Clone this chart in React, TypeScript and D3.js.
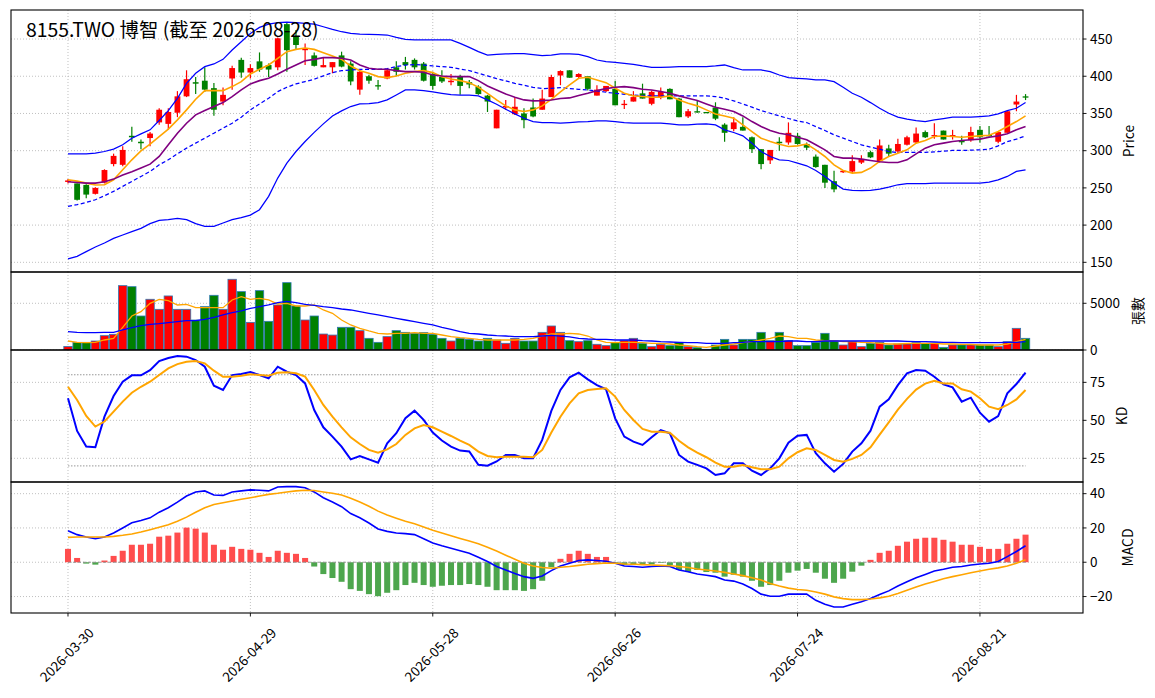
import { useEffect, useRef } from "react"
import * as d3 from "d3"

// x axis ticks (trading-day index -> label)
const tickIndex = [0, 20, 40, 60, 80, 100]
const tickLabels = ["2026-03-30", "2026-04-29", "2026-05-28", "2026-06-26", "2026-07-24", "2026-08-21"]

const title = "8155.TWO 博智 (截至 2026-08-28)"

const open = [258,256,254,242,257,282,281,320,312,317, 338,336,351,373,392,394,384,366,397,422, 405,420,415,412,470,453,435,428,412,412, 428,417,382,400,388,397,412,419,422,417, 403,399,392,399,392,386,374,330,358,349, 350,358,355,372,401,408,399,400,374,380, 383,362,366,377,363,372,383,370,346,353, 352,358,335,329,332,318,302,287,312,311, 320,309,292,281,259,271,272,284,298,286, 303,299,308,311,325,320,327,320,313,314, 328,321,312,324,362,373]
const high = [262,256,255,251,275,296,306,332,315,325, 357,357,380,408,399,412,391,385,414,425, 416,432,417,452,473,462,444,432,426,419, 433,420,409,402,395,409,420,426,424,419, 406,408,403,402,395,388,375,355,368,372, 357,370,382,402,408,408,404,400,388,387, 394,368,380,390,381,385,384,371,356,368, 352,365,337,345,345,319,302,301,318,338, 324,311,295,281,273,273,294,294,300,315, 308,316,320,331,327,337,327,328,320,332, 333,333,325,353,375,376]
const low = [256,233,236,241,256,279,279,312,302,306, 335,328,345,372,376,379,347,361,382,398, 397,406,399,408,406,436,415,413,412,404, 412,388,375,390,382,396,400,409,409,393, 382,391,388,375,384,375,352,330,355,348, 330,345,355,372,388,398,397,381,374,379, 361,356,366,370,361,369,369,345,344,351, 351,341,312,326,327,297,275,282,300,308, 308,301,277,250,244,270,270,282,290,284, 293,297,307,310,317,316,315,315,308,312, 311,319,310,324,353,368]
const close = [260,234,241,250,274,293,301,318,310,323, 355,352,373,396,390,382,355,375,411,405, 411,409,409,451,435,442,437,414,415,419, 413,393,406,394,387,408,406,415,412,394, 387,393,394,387,389,376,366,355,360,359, 341,346,370,399,407,398,403,383,382,387, 361,363,372,370,379,379,369,345,353,352, 351,343,324,338,327,302,282,301,310,324, 309,304,278,257,248,273,286,289,291,307, 296,309,318,323,318,321,315,321,312,325, 318,320,325,353,366,372]
const volume = [380,820,820,960,1535,1680,6890,6780,3640,5430, 4355,5785,4355,4355,3210,4640,5855,4355,7570,6250, 2960,6355,3070,4820,7210,4710,3210,3640,1710,1600, 2430,2430,2070,1250,820,1430,2070,1890,1785,1860, 1680,1250,960,1250,1140,960,1250,1070,715,1250, 960,960,1890,2570,1890,1000,890,1000,610,465, 820,1000,1250,715,357,610,465,820,357,250, 80,535,1140,535,1140,1140,1890,1000,1890,1000, 465,465,820,1785,960,535,890,357,715,820, 535,640,640,785,715,715,285,535,535,535, 535,535,357,890,2320,1250]

// Bollinger bands and moving averages
const bbUpper = [295.8,295.8,295.8,296.7,298.9,302,307.9,316.8,322.6,328, 340.5,353.9,370.4,390.5,404,412.9,416.5,422.7,435.2,446.4, 457.6,465.6,470.1,471.9,472.8,471.9,471,470.1,466.5,463, 459.8,457.6,456.7,456.3,455.8,455.4,452.2,449.6,448.7,448.7, 448.7,448.7,448.7,444.2,438.8,433,428.5,429.4,429.9,430.3, 430.3,429,427.6,428.5,429.9,429.9,429.4,426.3,421.8,419.6, 418.7,417.4,416,413.8,412,412,412.4,412.9,412.9,412.9, 412.9,413.8,415.1,411.6,408.4,408.4,408.4,406.2,401.7,398.1, 397.3,396.4,395,395,392.8,385.2,377.1,371.8,364.6,357, 350.3,345,342.3,340.5,339.1,341.4,343.2,345,345,345, 345.8,346.7,349.4,353.9,357,364.6]
const bbMid = [225.2,227.4,230.5,234.1,239.5,245.3,252,258.7,265.4,272.1, 281,287.7,295.8,303.4,310.1,316.8,323.5,330.2,336.9,345, 354.8,362.8,370.4,379.4,385.2,389.7,392.8,396,400.5,404.9, 407.5,408.4,409.3,409.3,409.3,410.2,412.9,415.1,415.6,415.1, 413.8,412.9,412,409.8,407.5,404,400.4,396.8,393.7,390.5, 387.9,385.2,383.4,383.8,384.7,383.4,382.5,381.6,380.3,378.5, 377.1,375.8,374.9,373.6,373.6,373.6,373.6,373.6,373.6,373.6, 373.6,372.7,370.4,366.9,362.8,358.4,353.9,350.3,346.7,343.2, 340,337.8,332.4,327.1,321.3,316.8,312.3,307.9,304.7,302, 298.9,297.6,297.6,297.6,297.6,298.5,299.4,300.3,300.3,300.7, 301.1,302,306.5,312.3,315.5,319.9]
const bbLower = [154.5,158.1,164.4,170.6,176,182.2,186.7,191.2,195.7,201.9, 206.4,207.3,209.1,207.3,201.9,198.3,198.3,202.8,207.3,210, 213.5,220.7,238.6,263.2,283.3,298.9,312.3,324.6,336,346.7, 353.4,359.3,362.8,363.3,364.6,368.2,374.9,381.6,381.6,380.7, 378.9,377.1,375.4,374.5,374.5,373.6,368.2,362.4,355.7,349.4, 343.6,339.1,337.8,337.8,336.9,337.8,338.7,339.1,340,340, 339.1,337.8,336.9,336.9,336.9,336.9,336,334.7,334.7,335.6, 336,334.7,328,324.4,319.9,310.1,298.9,292.2,287.7,286.8, 283.3,279.7,273.4,265.4,256.4,248.4,246.6,246.2,246.6,248.4, 251.1,254.2,255.6,255.6,255.6,256.4,256.4,256.4,256.4,256.4, 256.4,257.8,260.9,265.4,272.1,274.3]
const ma5 = [260.9,259.1,256.4,253.8,254.2,260.9,274.3,287.7,299.8,308.7, 319,328.9,341.4,354.8,369.1,380.7,380.7,380.7,386.1,392.8, 403.1,409.3,415.1,424.1,433,436.1,437.9,436.1,431.7,427.2, 422.7,413.8,407.5,404,399.5,398.1,400.4,404,406.2,407.5, 404.9,399.5,396.4,394.1,391.4,385.2,377.1,368.2,360.2,354.8, 352.6,354.8,360.2,369,379,388.3,397.3,398.6,395,391.4, 383.8,377.1,373.6,372.7,371.8,371.8,373.6,368.2,363.7,360.2, 354.8,349.4,346.7,343.6,334.7,325.7,316.8,312.3,308.7,305.6, 306.5,309,301.1,292.2,281,273.4,269.9,270.8,276.6,285.5, 292.2,296.7,301.1,310.1,313.7,319,319.9,319,318.1,319, 319.9,320.8,325.7,332.4,339.1,346.7]
const ma10 = [258.2,257.3,256.4,256.4,258.2,261.8,267.2,271.6,276.6,281.9, 292.2,307.9,323.5,336.9,348.1,353.9,359.3,364.6,372.7,381.6, 389.7,394.1,397.3,403.1,409.3,415.1,420.9,422.7,425,425, 424.1,421.8,415.1,410.7,409.3,409.3,407.5,406.2,406.2,405.3, 401.7,400.4,399.5,399.5,399.5,394.1,387,381.6,376.2,371.8, 368.2,366.9,367.3,368,370,370.9,374,377.1,380.7,383.4, 385.2,386.1,384.7,382.5,381.6,379.4,377.1,373.6,370.4,367.3, 362.8,358.4,355.7,352.6,346.7,339.1,332.4,327.1,323.5,321.3, 318.1,314.6,307.9,301.1,292.2,290,290,288.6,286.8,285.1, 284.2,284.2,287.7,295.8,303.4,307.9,310.1,312.3,313.7,314.6, 315.5,318.1,319.9,322.6,328,332.4]

// volume averages
const volMa5 = [964,821,785,821,1071,1250,2428,3641,4106,4998, 5426,5284,4820,4891,4534,4534,4534,4534,5355,5712, 5426,5534,5355,4927,4998,4712,4712,4820,4284,3927, 3213,2678,2321,2035,1785,1714,1785,1785,1856,1785, 1785,1607,1428,1321,1250,1142,1071,1071,1071,1071, 1142,1250,1499,1714,1714,1785,1714,1499,1071,821, 785,821,821,785,714,714,643,536,464,357, 286,428,536,643,785,893,1071,1250,1499,1428, 1250,1250,1071,1000,1000,893,893,821,785,714, 643,643,714,714,714,714,643,643,607,607, 536,536,536,643,893,1142]
const volMa20 = [1964,1892,1856,1856,1892,1892,2142,2392,2606,2749, 2820,2927,3035,3142,3142,3284,3499,3749,3998,4177, 4463,4641,4820,5069,5212,5069,4891,4784,4641,4534, 4391,4284,4106,3927,3749,3570,3392,3213,3035,2856, 2678,2428,2213,1964,1785,1714,1607,1535,1499,1428, 1428,1428,1499,1560,1480,1400,1250,1178,1142,1142, 1071,1071,1071,1000,964,893,857,821,785,785, 714,714,714,785,821,893,893,893,893,964, 964,893,893,964,964,964,964,964,964,964, 964,964,928,893,893,857,821,821,785,785, 785,785,785,821,821,893]

// KD
const kValues = [64.5,43,32.7,32.3,52.4,66,75.4,79.6,79.6,83, 89,91,92.3,91.9,89.7,85.3,72.8,70,79.8,80.5, 81.8,79.8,77.6,85.3,82,79.8,74.3,56.8,45.4,39.3, 32.7,24.3,26.5,24.3,22.1,34.9,41.5,51.4,56.4,50.3, 42,36.7,32.7,30.1,29.5,20.7,20.1,22.9,27.2,27.2, 25,25,37.1,56.2,70,78.3,81.4,77,73.2,70.4, 51.3,39.3,36,33.8,38.8,43.6,41.5,27.2,22.8,20.7, 18.4,14,15.1,21.7,21.7,16.8,14,18.4,25,35.3, 39.8,40.4,28.3,21.7,16.2,21.3,29.4,34.9,43.2,59, 63.8,73.2,80.9,83.1,82.7,78.7,73.7,71.7,62.3,64.9, 55,49.1,52.8,67.8,73.9,81.4]
const dValues = [72.1,63.4,52.9,45.9,49.2,55.7,62.3,68.2,72.1,75.4, 79.8,84.2,87,88.6,89,87.5,82.7,78.7,78.7,79.4, 80.3,79.8,79.4,81.4,81.6,81,78.8,70,60.1,52.4, 45.4,38.8,34.4,30.5,28.7,30.9,34.4,40.4,44.7,46.9, 45.4,42.5,39.7,36.6,33.8,29.4,26.5,25.7,26.1,26.1, 26.1,25.7,30.5,42,52.4,61.2,67.8,70,70.6,71.1, 65.6,56.8,50.2,44.3,42.5,42.5,41.9,36.6,32.2,28.7, 25.7,22.1,19.5,19.5,20.6,19.1,17.8,17.8,19.5,25, 29,31.6,30.5,27.2,23.9,22.8,24.6,27.2,32.2,40.6, 48.7,57.1,64.1,70.2,74.2,76.1,74.2,74.3,70.4,68.9, 64.5,59,57.3,60.1,63.8,70]
const kdLevels = [80, 20]

// MACD
const dif = [18.4,16.1,14.7,13.7,14.7,17.1,20,23,24.3,25.9, 29.2,31.8,35.1,38.6,41,41.6,39.2,39,41,41.6, 42.2,42,41.6,43.9,44.1,44.1,43.5,41,37.6,35.1, 32.4,28.4,25.9,22.9,19.4,18,17.1,16.7,16.1,13.7, 11.2,9.6,8.2,6.7,5.3,2.9,0.4,-2.5,-4.5,-6.5, -8.4,-9.4,-8,-4.9,-2.2,-0.6,1,1.4,1,0.6, -0.6,-2.2,-2.5,-2.9,-2.5,-2.2,-2.5,-4.5,-5.5,-6.9, -7.6,-8.4,-10.4,-11,-12.7,-15.3,-18.6,-19.8,-19.8,-18.6, -18.6,-18.6,-22.2,-24.5,-26.1,-26.1,-24.5,-23.1,-21.2,-18.8, -16.7,-13.9,-11.4,-9,-7.1,-5.1,-4.1,-2.9,-2.5,-1.6, -1,-0.6,0.4,3.3,6.3,9.6]
const dea = [14.5,14.7,14.7,14.7,14.7,15.1,15.7,16.5,17.6,19, 20.4,21.9,23.9,26.3,29.2,31.8,33.7,34.7,35.7,36.7, 37.6,38.6,39.6,40.2,41,41.6,42,41.8,41,40.2, 39.2,37.3,35.1,32.7,29.8,27.6,25.7,23.9,22.4,20.6, 18.6,17.1,15.5,13.9,12.4,10.8,8.8,6.5,4.1,1.8, -0.6,-2.2,-3.1,-3.5,-2.9,-2.5,-1.8,-1.2,-0.8,-0.4, -0.6,-1,-1.2,-1.4,-1.6,-1.8,-2,-2.5,-3.1,-3.9, -4.5,-5.1,-5.9,-6.9,-7.8,-9,-10.4,-12.4,-13.9,-15.1, -15.9,-16.3,-17.3,-18.6,-20.2,-21.2,-21.8,-21.8,-21.4,-20.8, -19.8,-18.2,-16.3,-14.5,-12.7,-11.2,-9.6,-8.4,-7.3,-6.1, -5.1,-4.1,-3.3,-2.2,-0.6,1.4]
const macdHist = [7.8,2.5,-0.8,-1.4,1,3.7,6.7,10.2,10.2,10.8, 14.9,15.5,17.3,20.2,19.6,17.3,10.2,7.3,9,7.8, 7.3,5.5,3.1,6.7,5.5,4.9,2.5,-2.5,-6.9,-9.2, -11.4,-15.7,-16.7,-18.6,-19.8,-17.8,-16.3,-13.3,-12,-13.3, -14.3,-13.7,-13.3,-13.3,-12.7,-13.3,-14.3,-16.3,-16.3,-16.3, -16.7,-15.7,-10.8,-2.9,2,4.9,6.7,4.9,3.1,3.1, -0.4,-1.6,-1.6,-1.6,-1.2,-0.4,-1.6,-4.5,-5.7,-4.5, -5.7,-6.1,-8.4,-7.3,-8.4,-10.8,-14.3,-13.3,-10.8,-6.1, -4.9,-3.9,-6.1,-9.6,-12,-9.6,-5.5,-2,1.4,5.5, 6.7,9.6,12,13.7,14.3,14.3,13.1,12,10.2,10.2, 9,7.8,7.8,10.8,13.7,16.1]

const FONT = "'Noto Sans CJK TC', 'Noto Sans', sans-serif"

export default function App() {
  const svgRef = useRef<SVGSVGElement>(null)

  useEffect(() => {
    if (!svgRef.current) return
    const svg = d3.select(svgRef.current)
    svg.selectAll("*").remove()

    const left = 11
    const right = 1083
    const idx = d3.range(close.length)
    const x = d3.scaleLinear().domain([-6.25, 111.3]).range([left, right])
    const step = x(1) - x(0)

    const panels = [
      { key: "price", top: 10, bottom: 272, domain: [137, 489], ticks: [150, 200, 250, 300, 350, 400, 450], label: "Price", labelX: 1129 },
      { key: "vol", top: 272, bottom: 350, domain: [0, 8350], ticks: [0, 5000], label: "張數", labelX: 1138 },
      { key: "kd", top: 350, bottom: 482, domain: [9.4, 96.3], ticks: [25, 50, 75], label: "KD", labelX: 1122 },
      { key: "macd", top: 482, bottom: 613, domain: [-29.6, 46.8], ticks: [-20, 0, 20, 40], label: "MACD", labelX: 1128 },
    ]
    const ys: Record<string, d3.ScaleLinear<number, number>> = {}

    const defs = svg.append("defs")
    panels.forEach(p => {
      ys[p.key] = d3.scaleLinear().domain(p.domain).range([p.bottom, p.top])
      defs.append("clipPath").attr("id", `clip-${p.key}`)
        .append("rect").attr("x", left).attr("y", p.top).attr("width", right - left).attr("height", p.bottom - p.top)
    })

    svg.append("rect").attr("width", 1155).attr("height", 698).attr("fill", "white")

    // grids
    panels.forEach(p => {
      const y = ys[p.key]
      const g = svg.append("g").attr("clip-path", `url(#clip-${p.key})`)
      g.selectAll(".vg").data(tickIndex).enter().append("line")
        .attr("x1", d => x(d)).attr("x2", d => x(d)).attr("y1", p.top).attr("y2", p.bottom)
        .attr("stroke", "#b0b0b0").attr("stroke-width", 0.8).attr("stroke-dasharray", "1,2")
      g.selectAll(".hg").data(p.ticks).enter().append("line")
        .attr("x1", left).attr("x2", right).attr("y1", d => y(d)).attr("y2", d => y(d))
        .attr("stroke", "#b0b0b0").attr("stroke-width", 0.8).attr("stroke-dasharray", "1,2")
    })

    const lineOf = (vals: number[], y: d3.ScaleLinear<number, number>) =>
      d3.line<number>().x(i => x(i)).y(i => y(vals[i]))(idx) as string

    // ---- price panel
    const yp = ys.price
    const gp = svg.append("g").attr("clip-path", "url(#clip-price)")
    const up = (i: number) => close[i] >= open[i]
    const bodyW = 5.8

    const candles = gp.selectAll(".candle").data(idx).enter().append("g")
    candles.append("line")
      .attr("x1", i => x(i)).attr("x2", i => x(i))
      .attr("y1", i => yp(high[i])).attr("y2", i => yp(low[i]))
      .attr("stroke", i => (up(i) ? "#ff0000" : "#008000")).attr("stroke-width", 1.2)
    candles.append("rect")
      .attr("x", i => x(i) - bodyW / 2).attr("width", bodyW)
      .attr("y", i => yp(Math.max(open[i], close[i])))
      .attr("height", i => Math.max(1.3, Math.abs(yp(open[i]) - yp(close[i]))))
      .attr("fill", i => (up(i) ? "#ff0000" : "#008000"))

    const priceLines: [number[], string, number, string | null][] = [
      [bbUpper, "#0000ff", 1.25, null],
      [bbLower, "#0000ff", 1.25, null],
      [bbMid, "#0000ff", 1.25, "4,2.5"],
      [ma5, "#ffa500", 1.6, null],
      [ma10, "#800080", 1.6, null],
    ]
    priceLines.forEach(([vals, color, w, dash]) => {
      gp.append("path").attr("d", lineOf(vals, yp)).attr("fill", "none")
        .attr("stroke", color).attr("stroke-width", w).attr("stroke-dasharray", dash)
    })

    // ---- volume panel
    const yv = ys.vol
    const gv = svg.append("g").attr("clip-path", "url(#clip-vol)")
    const barW = step * 0.92
    gv.selectAll(".vbar").data(idx).enter().append("rect")
      .attr("x", i => x(i) - barW / 2).attr("width", barW)
      .attr("y", i => yv(volume[i])).attr("height", i => yv(0) - yv(volume[i]))
      .attr("fill", i => (up(i) ? "#ff0000" : "#008000"))
      .attr("stroke", "#2f7ab4").attr("stroke-width", 0.8)
    gv.append("path").attr("d", lineOf(volMa5, yv)).attr("fill", "none").attr("stroke", "#ffa500").attr("stroke-width", 1.3)
    gv.append("path").attr("d", lineOf(volMa20, yv)).attr("fill", "none").attr("stroke", "#0000ff").attr("stroke-width", 1.3)

    // ---- KD panel
    const yk = ys.kd
    const gk = svg.append("g").attr("clip-path", "url(#clip-kd)")
    gk.selectAll(".lvl").data(kdLevels).enter().append("line")
      .attr("x1", x(0)).attr("x2", x(idx.length - 1))
      .attr("y1", d => yk(d)).attr("y2", d => yk(d))
      .attr("stroke", "#8c8c8c").attr("stroke-width", 0.9).attr("stroke-dasharray", "1.5,1.5")
    gk.append("path").attr("d", lineOf(kValues, yk)).attr("fill", "none").attr("stroke", "#0000ff").attr("stroke-width", 2)
    gk.append("path").attr("d", lineOf(dValues, yk)).attr("fill", "none").attr("stroke", "#ffa500").attr("stroke-width", 2)

    // ---- MACD panel
    const ym = ys.macd
    const gm = svg.append("g").attr("clip-path", "url(#clip-macd)")
    const histW = step * 0.66
    gm.selectAll(".hbar").data(idx).enter().append("rect")
      .attr("x", i => x(i) - histW / 2).attr("width", histW)
      .attr("y", i => ym(Math.max(0, macdHist[i])))
      .attr("height", i => Math.abs(ym(macdHist[i]) - ym(0)))
      .attr("fill", i => (macdHist[i] >= 0 ? "#ff4d4d" : "#4da64d"))
    gm.append("line").attr("x1", x(0)).attr("x2", x(idx.length - 1)).attr("y1", ym(0)).attr("y2", ym(0))
      .attr("stroke", "#8c8c8c").attr("stroke-width", 0.9).attr("stroke-dasharray", "3,2")
    gm.append("path").attr("d", lineOf(dif, ym)).attr("fill", "none").attr("stroke", "#0000ff").attr("stroke-width", 1.6)
    gm.append("path").attr("d", lineOf(dea, ym)).attr("fill", "none").attr("stroke", "#ffa500").attr("stroke-width", 1.6)

    // frames, right axes, labels
    const fmt = d3.format("d")
    panels.forEach(p => {
      const y = ys[p.key]
      svg.append("rect").attr("x", left).attr("y", p.top).attr("width", right - left).attr("height", p.bottom - p.top)
        .attr("fill", "none").attr("stroke", "black").attr("stroke-width", 1.1)
      const t = svg.append("g")
      t.selectAll("line").data(p.ticks).enter().append("line")
        .attr("x1", right).attr("x2", right + 3.5).attr("y1", d => y(d)).attr("y2", d => y(d))
        .attr("stroke", "black").attr("stroke-width", 0.9)
      t.selectAll("text").data(p.ticks).enter().append("text")
        .attr("x", right + 7).attr("y", d => y(d)).attr("dy", "0.35em")
        .attr("font-family", FONT).attr("font-size", "13.5px").attr("fill", "black")
        .text(d => fmt(d))
      svg.append("text")
        .attr("transform", `translate(${p.labelX},${(p.top + p.bottom) / 2}) rotate(-90)`)
        .attr("text-anchor", "middle").attr("dy", "0.35em")
        .attr("font-family", FONT).attr("font-size", "13.9px").attr("fill", "black")
        .text(p.label)
    })

    // x ticks and date labels
    const bottom = 613
    svg.selectAll(".xt").data(tickIndex).enter().append("line")
      .attr("x1", d => x(d)).attr("x2", d => x(d)).attr("y1", bottom).attr("y2", bottom + 3.5)
      .attr("stroke", "black").attr("stroke-width", 0.9)
    svg.selectAll(".xl").data(tickIndex).enter().append("text")
      .attr("transform", d => `translate(${x(d) - 1},${bottom + 42}) rotate(-45)`)
      .attr("text-anchor", "middle").attr("dy", "0.35em")
      .attr("font-family", FONT).attr("font-size", "13.5px").attr("fill", "black")
      .text((d, i) => tickLabels[i])

    // title
    svg.append("text").attr("x", 26).attr("y", 37)
      .attr("font-family", FONT).attr("font-size", "19.4px").attr("fill", "black")
      .text(title)
  }, [])

  return (
    <svg ref={svgRef} width={1155} height={698} style={{ position: "absolute", left: 0, top: 0 }} />
  )
}
